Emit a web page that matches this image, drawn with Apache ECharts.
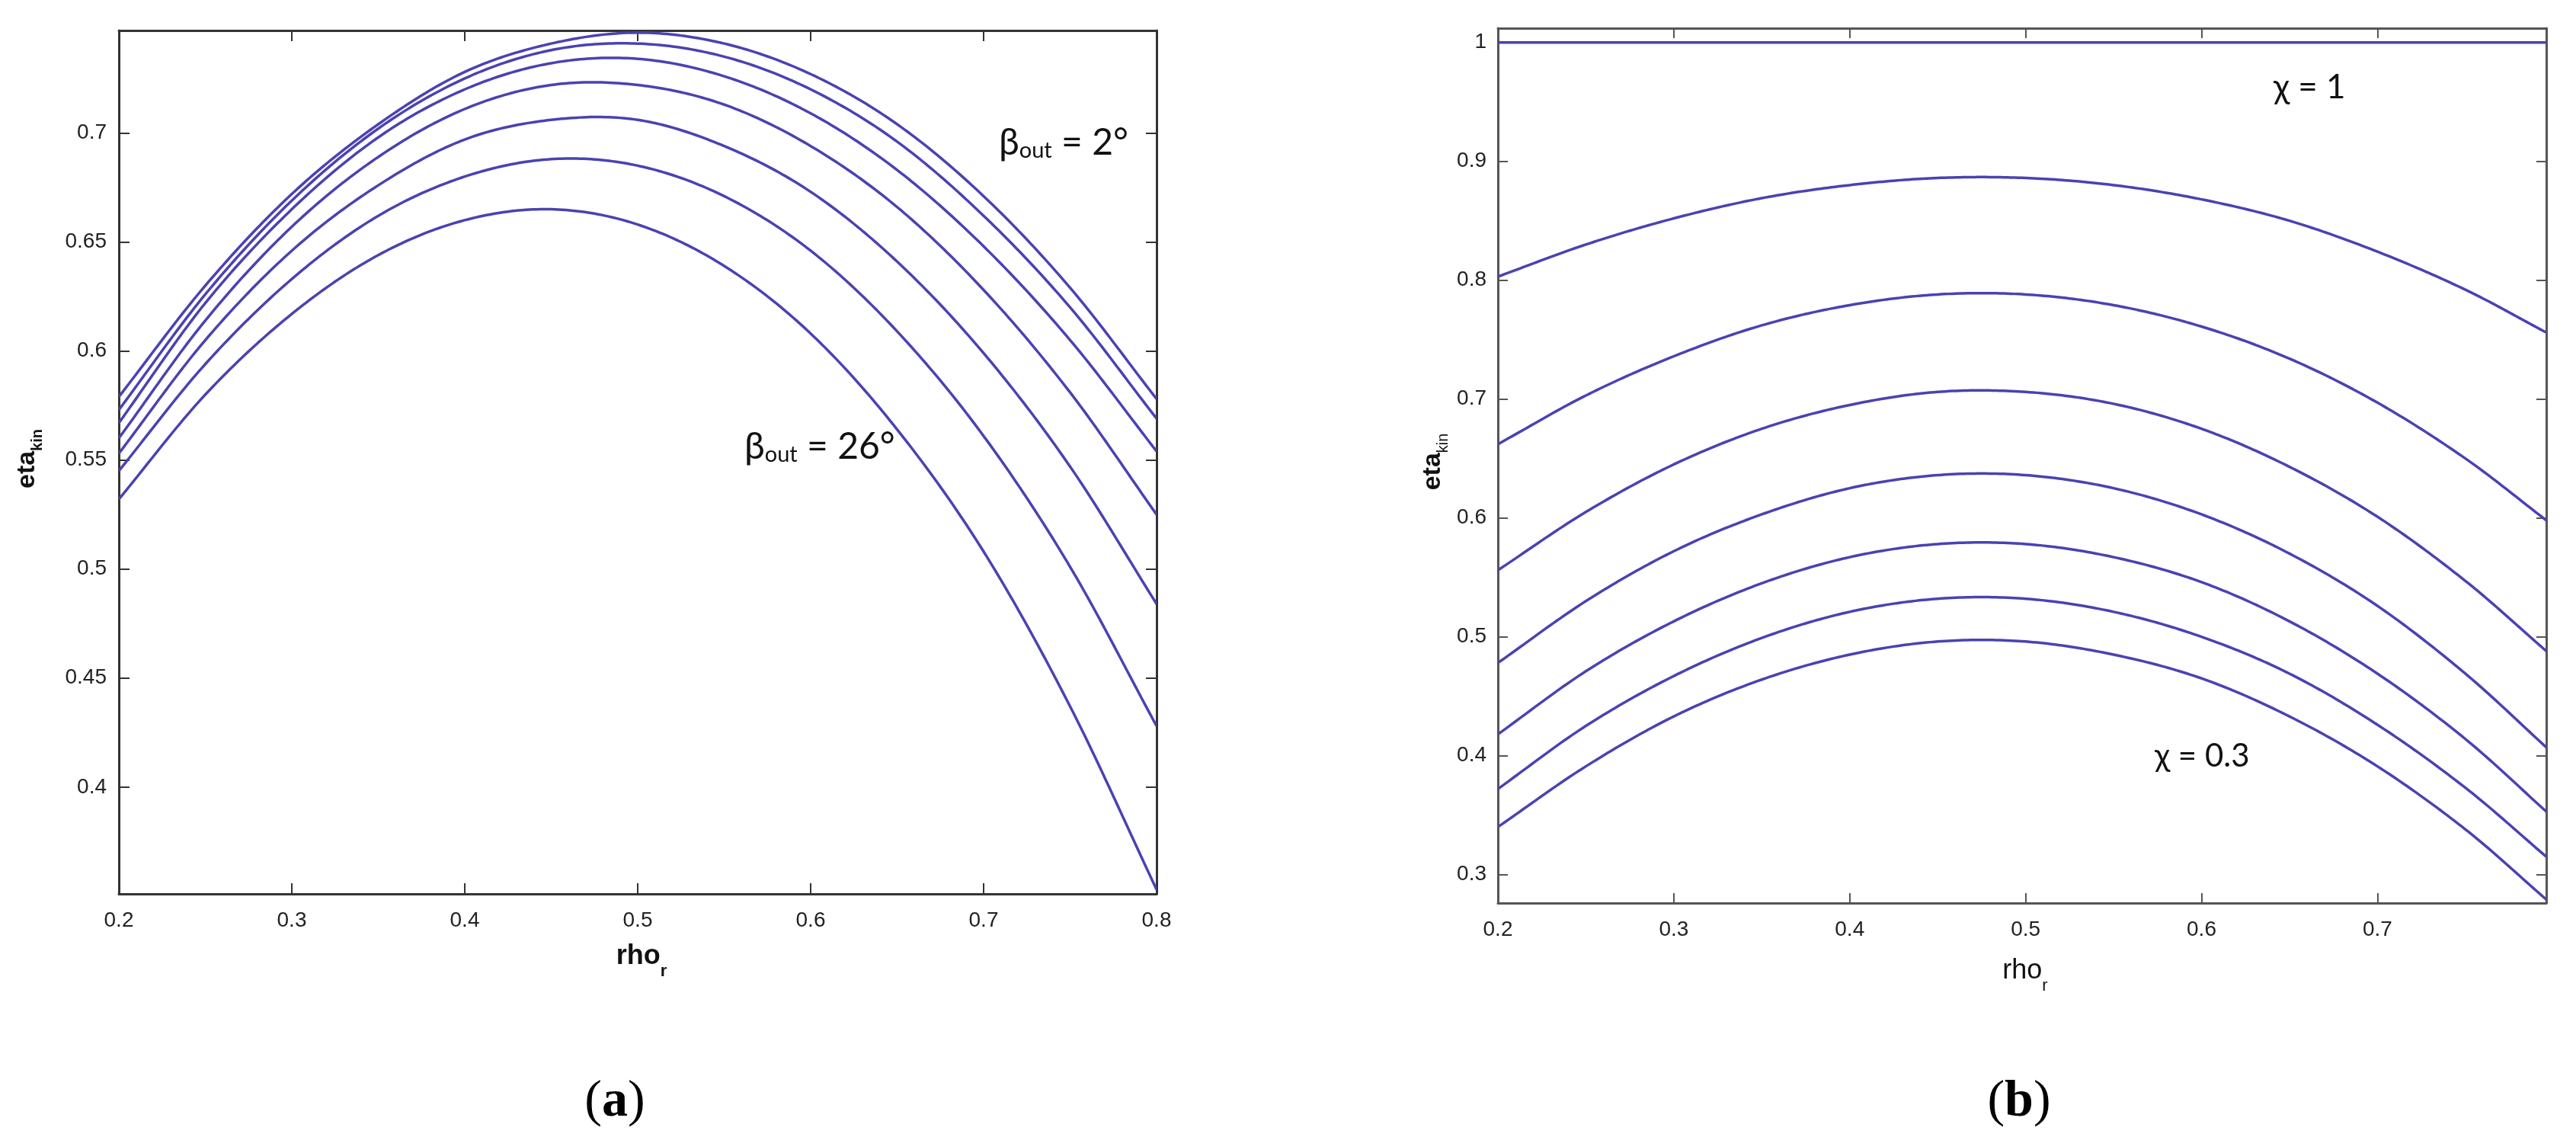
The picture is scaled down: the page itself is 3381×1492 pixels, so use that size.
<!DOCTYPE html>
<html>
<head>
<meta charset="utf-8">
<script src="https://cdn.jsdelivr.net/npm/echarts@6/dist/echarts.min.js"></script>
<style>
html,body{margin:0;padding:0;background:#fff;}
#chart{width:3381px;height:1492px;}
</style>
</head>
<body>
<div id="chart"></div>
<script>
// ---------- data ----------
// panel (a): rho_r vs eta_kin for beta_out = 2° ... 26°
const rhoA = [0.2,0.25,0.3,0.35,0.4,0.45,0.5,0.55,0.6,0.65,0.7,0.75,0.8];
const beta2  = [0.579,0.630,0.672,0.704,0.728,0.741,0.746,0.741,0.727,0.704,0.671,0.629,0.578];
const beta6  = [0.573,0.626,0.669,0.702,0.725,0.738,0.741,0.735,0.720,0.696,0.662,0.620,0.569];
const beta10 = [0.567,0.622,0.665,0.698,0.720,0.732,0.734,0.726,0.709,0.683,0.648,0.605,0.554];
const beta14 = [0.560,0.614,0.657,0.689,0.711,0.722,0.722,0.713,0.694,0.666,0.628,0.581,0.525];
const beta18 = [0.553,0.605,0.646,0.676,0.697,0.706,0.706,0.694,0.673,0.641,0.599,0.547,0.484];
const beta22 = [0.545,0.594,0.633,0.662,0.680,0.688,0.685,0.671,0.646,0.609,0.561,0.501,0.428];
const beta26 = [0.532,0.580,0.617,0.644,0.660,0.665,0.658,0.639,0.608,0.564,0.508,0.437,0.353];
const seriesA = [beta2, beta6, beta10, beta14, beta18, beta22, beta26];
const namesA = ['2°','6°','10°','14°','18°','22°','26°'];

// panel (b): rho_r vs eta_kin for chi = 1 ... 0.3
const rhoB = [0.2,0.25,0.3,0.35,0.4,0.45,0.5,0.55,0.6,0.65,0.7,0.75,0.796];
const chi10 = [1,1,1,1,1,1,1,1,1,1,1,1,1];
const chi09 = [0.803,0.830,0.852,0.869,0.880,0.886,0.886,0.880,0.868,0.850,0.824,0.792,0.756];
const chi08 = [0.662,0.703,0.736,0.762,0.779,0.788,0.788,0.779,0.761,0.734,0.697,0.650,0.598];
const chi07 = [0.556,0.605,0.645,0.675,0.695,0.706,0.706,0.696,0.675,0.643,0.601,0.547,0.488];
const chi06 = [0.478,0.530,0.572,0.603,0.625,0.636,0.636,0.625,0.603,0.570,0.526,0.469,0.407];
const chi05 = [0.418,0.471,0.513,0.545,0.567,0.578,0.578,0.567,0.546,0.513,0.469,0.414,0.353];
const chi04 = [0.372,0.425,0.467,0.499,0.521,0.532,0.532,0.521,0.500,0.469,0.426,0.373,0.315];
const chi03 = [0.340,0.391,0.433,0.464,0.485,0.496,0.496,0.485,0.465,0.433,0.391,0.338,0.279];
const seriesB = [chi10, chi09, chi08, chi07, chi06, chi05, chi04, chi03];
const namesB = ['1','0.9','0.8','0.7','0.6','0.5','0.4','0.3'];

// tick labels
const xTicksA = [0.2,0.3,0.4,0.5,0.6,0.7,0.8];
const yTicksA = [0.4,0.45,0.5,0.55,0.6,0.65,0.7];
const xTicksB = [0.2,0.3,0.4,0.5,0.6,0.7];
const yTicksB = [0.3,0.4,0.5,0.6,0.7,0.8,0.9,1];

// ---------- chart ----------
const LINE = '#4a42b2';
const TICKFONT = 'Liberation Sans, Arial, sans-serif';

function mkAxis(grid, min, max, ticks, pos, labels, color, len, margin){
  return {
    type:'value', gridIndex:grid, min:min, max:max, position:pos,
    axisLine:{show:true,onZero:false,lineStyle:{color:color,width:3}},
    axisTick:{show:true,inside:true,length:len,customValues:ticks,lineStyle:{color:color,width:2}},
    splitLine:{show:false},
    axisLabel:{show:labels, customValues:ticks, fontSize:28, color:'#222', fontFamily:TICKFONT, margin:margin,
      formatter:v=>String(+v.toFixed(2))}
  };
}

// smooth curve drawn through the data points (Catmull-Rom) in axis coordinates
function curveSeries(xs, ys, xi, yi, name){
  return {
    type:'custom', name:name, xAxisIndex:xi, yAxisIndex:yi, clip:true,
    data: xs.map((x,i)=>[x, ys[i]]),
    encode:{x:0, y:1},
    renderItem:function(params, api){
      if (params.dataIndex !== 0) return null;
      const P = xs.map((x,i)=>api.coord([x, ys[i]]));
      const n = P.length, pts = [];
      for (let i=0;i<n-1;i++){
        const p0 = i>0 ? P[i-1] : [2*P[0][0]-P[1][0], 2*P[0][1]-P[1][1]];
        const p1 = P[i], p2 = P[i+1];
        const p3 = i+2<n ? P[i+2] : [2*P[n-1][0]-P[n-2][0], 2*P[n-1][1]-P[n-2][1]];
        for (let s=0;s<24;s++){
          const t=s/24, t2=t*t, t3=t2*t;
          const f = k => 0.5*((2*p1[k]) + (-p0[k]+p2[k])*t + (2*p0[k]-5*p1[k]+4*p2[k]-p3[k])*t2 + (-p0[k]+3*p1[k]-3*p2[k]+p3[k])*t3);
          pts.push([f(0), f(1)]);
        }
      }
      pts.push(P[n-1]);
      return {type:'polyline', shape:{points:pts}, style:{stroke:LINE, lineWidth:3.5, fill:'none'}};
    }
  };
}

const series = [];
seriesA.forEach((arr,k)=>series.push(curveSeries(rhoA, arr, 0, 0, 'beta '+namesA[k])));
seriesB.forEach((arr,k)=>series.push(curveSeries(rhoB, arr, 2, 2, 'chi '+namesB[k])));

// ---------- text helpers ----------
const mctx = document.createElement('canvas').getContext('2d');
function tw(t,size,weight,family){ mctx.font = (weight||'normal')+' '+size+'px '+family; return mctx.measureText(t).width; }
function label(parts, x, y, family, rotation, anchor){
  let total = 0; parts.forEach(p=>{p.w = tw(p.t,p.size,p.weight,family); total += p.w;});
  let cx = anchor==='center' ? -total/2 : 0;
  const children = parts.map(p=>{
    const c = {type:'text', x:cx, y:(p.dy||0), style:{text:p.t, font:(p.weight||'normal')+' '+p.size+'px '+family,
      fill:'#111', textVerticalAlign:'middle', textAlign:'left'}};
    cx += p.w; return c;
  });
  return {type:'group', x:x, y:y, rotation:rotation||0, children:children};
}
const SANS = 'Liberation Sans, Arial, sans-serif';
const HUM = 'Lato, Open Sans, sans-serif';
const SERIF = 'Liberation Serif, Times New Roman, serif';

const graphics = [
  label([{t:'eta',size:34,weight:'bold'},{t:'kin',size:20,weight:'bold',dy:13}], 36, 602, SANS, Math.PI/2, 'center'),
  label([{t:'eta',size:34,weight:'bold'},{t:'kin',size:20,weight:'normal',dy:13}], 1881, 606, SANS, Math.PI/2, 'center'),
  label([{t:'rho',size:36,weight:'bold'},{t:'r',size:22,weight:'bold',dy:20}], 842, 1255, SANS, 0, 'center'),
  label([{t:'rho',size:36,weight:'normal'},{t:'r',size:22,weight:'normal',dy:20}], 2658, 1274, SANS, 0, 'center'),
  label([{t:'β',size:48},{t:'out',size:29,dy:10},{t:' = 2°',size:48}], 1311, 188, HUM, 0, 'left'),
  label([{t:'β',size:48},{t:'out',size:29,dy:10},{t:' = 26°',size:48}], 977, 587, HUM, 0, 'left'),
  label([{t:'χ = 1',size:44}], 2984, 115, HUM, 0, 'left'),
  label([{t:'χ = 0.3',size:42}], 2828, 992, HUM, 0, 'left'),
  {type:'text', x:807, y:1446, style:{text:'{n|(}{b|a}{n|)}', textAlign:'center', textVerticalAlign:'middle',
    rich:{n:{fontSize:68,fontFamily:SERIF,fill:'#000'}, b:{fontSize:68,fontFamily:SERIF,fontWeight:'bold',fill:'#000'}}}},
  {type:'text', x:2650, y:1446, style:{text:'{n|(}{b|b}{n|)}', textAlign:'center', textVerticalAlign:'middle',
    rich:{n:{fontSize:68,fontFamily:SERIF,fill:'#000'}, b:{fontSize:68,fontFamily:SERIF,fontWeight:'bold',fill:'#000'}}}}
];

const option = {
  animation:false,
  backgroundColor:'#fff',
  grid:[
    {left:156, top:40, width:1362, height:1133},
    {left:1966, top:37, width:1376, height:1148}
  ],
  xAxis:[
    mkAxis(0,0.2,0.8,xTicksA,'bottom',true,'#333',14,21),
    mkAxis(0,0.2,0.8,xTicksA,'top',false,'#333',14,21),
    mkAxis(1,0.2,0.796,xTicksB,'bottom',true,'#555',13,21),
    mkAxis(1,0.2,0.796,xTicksB,'top',false,'#555',13,21)
  ],
  yAxis:[
    mkAxis(0,0.351,0.747,yTicksA,'left',true,'#333',14,16),
    mkAxis(0,0.351,0.747,yTicksA,'right',false,'#333',14,16),
    mkAxis(1,0.276,1.012,yTicksB,'left',true,'#555',13,15),
    mkAxis(1,0.276,1.012,yTicksB,'right',false,'#555',13,15)
  ],
  series: series,
  graphic: graphics
};
const chart = echarts.init(document.getElementById('chart'), null, {renderer:'canvas'});
chart.setOption(option);
</script>
</body>
</html>
